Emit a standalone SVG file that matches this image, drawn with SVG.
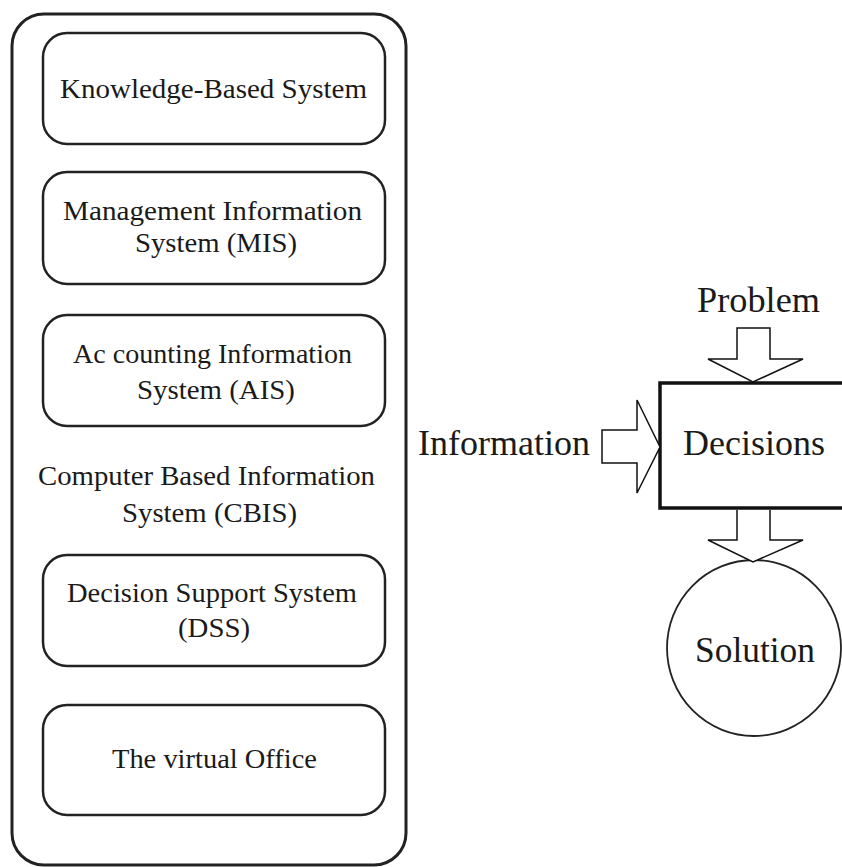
<svg xmlns="http://www.w3.org/2000/svg" width="842" height="867" viewBox="0 0 842 867">
  <style>
    .t { font-family: "Liberation Serif", "Times New Roman", serif; font-size: 28px; fill: #1a1a1a; }
    .big { font-family: "Liberation Serif", "Times New Roman", serif; font-size: 36px; fill: #1a1a1a; }
    .box { fill: #fff; stroke: #222; stroke-width: 2.5; }
    .outer { fill: #fff; stroke: #222; stroke-width: 3; }
    .arrow { fill: #fff; stroke: #111; stroke-width: 1.5; stroke-linejoin: miter; }
  </style>
  <rect width="842" height="867" fill="#fff"/>

  <!-- CBIS container -->
  <g id="cbis">
    <rect class="outer" x="12" y="14" width="394" height="851" rx="32" ry="32"/>
    <text class="t" x="38" y="485" textLength="337" lengthAdjust="spacingAndGlyphs">Computer Based Information</text>
    <text class="t" x="122" y="522" textLength="175" lengthAdjust="spacingAndGlyphs">System (CBIS)</text>
  </g>

  <g id="kbs">
    <rect class="box" x="43" y="33" width="342" height="111" rx="24" ry="24"/>
    <text class="t" x="60" y="98" textLength="307" lengthAdjust="spacingAndGlyphs">Knowledge-Based System</text>
  </g>

  <g id="mis">
    <rect class="box" x="43" y="172" width="342" height="112" rx="24" ry="24"/>
    <text class="t" x="63" y="220" textLength="299" lengthAdjust="spacingAndGlyphs">Management Information</text>
    <text class="t" x="135" y="252" textLength="162" lengthAdjust="spacingAndGlyphs">System (MIS)</text>
  </g>

  <g id="ais">
    <rect class="box" x="43" y="315" width="342" height="111" rx="24" ry="24"/>
    <text class="t" x="73" y="363" textLength="279" lengthAdjust="spacingAndGlyphs">Ac counting Information</text>
    <text class="t" x="137" y="399" textLength="158" lengthAdjust="spacingAndGlyphs">System (AIS)</text>
  </g>

  <g id="dss">
    <rect class="box" x="43" y="555" width="342" height="111" rx="24" ry="24"/>
    <text class="t" x="67" y="602" textLength="290" lengthAdjust="spacingAndGlyphs">Decision Support System</text>
    <text class="t" x="178" y="637" textLength="72" lengthAdjust="spacingAndGlyphs">(DSS)</text>
  </g>

  <g id="virtual-office">
    <rect class="box" x="43" y="705" width="342" height="110" rx="24" ry="24"/>
    <text class="t" x="112" y="768" textLength="205" lengthAdjust="spacingAndGlyphs">The virtual Office</text>
  </g>

  <!-- Decision model -->
  <g id="problem">
    <text class="big" x="697" y="312" textLength="123" lengthAdjust="spacingAndGlyphs">Problem</text>
  </g>

  <g id="information">
    <text class="big" x="418" y="455" textLength="172" lengthAdjust="spacingAndGlyphs">Information</text>
  </g>

  <g id="decisions">
    <rect x="660" y="383" width="200" height="125" fill="#fff" stroke="#111" stroke-width="3.5"/>
    <text class="big" x="683" y="455" textLength="142" lengthAdjust="spacingAndGlyphs">Decisions</text>
  </g>

  <g id="solution">
    <ellipse cx="754" cy="648" rx="87" ry="88" fill="#fff" stroke="#222" stroke-width="1.8"/>
    <text class="big" x="695" y="662" textLength="120" lengthAdjust="spacingAndGlyphs">Solution</text>
  </g>

  <!-- Block arrows -->
  <g id="connectors">
    <polygon class="arrow" points="737,328 770,328 770,359 803,359 753,382 708,359 737,359"/>
    <polygon class="arrow" points="602,430 637,430 637,400 660,447 637,493 637,463 602,463"/>
    <polyline class="arrow" points="737,510 737,540 708,540 753,562 803,540 770,540 770,510"/>
  </g>
</svg>
